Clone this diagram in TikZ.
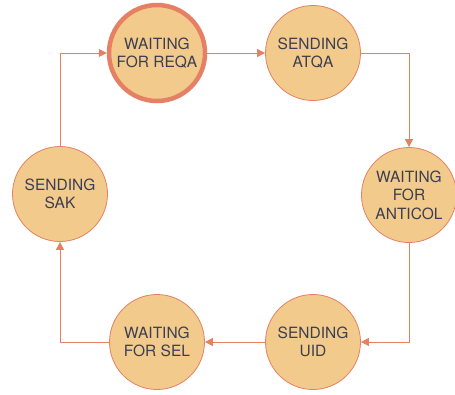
\documentclass[tikz,border=0pt]{standalone}
\usepackage{fontspec}
\setmainfont{TeX Gyre Heros}
\usepackage{tikz}
\usetikzlibrary{arrows.meta}

\definecolor{statefill}{RGB}{242,202,140}
\definecolor{stateline}{RGB}{229,128,100}
\definecolor{statetext}{RGB}{60,62,82}

\begin{document}
\begin{tikzpicture}[x=1pt,y=-1pt,>={Triangle[length=8pt,width=8pt]},
  state/.style={circle,draw=stateline,fill=statefill,line width=0.8pt,
    minimum size=95pt,inner sep=0pt,align=center,text=statetext,
    font=\fontsize{15.5}{18.5}\selectfont},
  start/.style={line width=4.5pt,minimum size=96pt},
  trans/.style={->,color=stateline,line width=1pt}]

  \useasboundingbox (0,0) rectangle (455,394);

  \node[state, start] (reqa) at (157,53) {WAITING\\FOR REQA};
  \node[state] (atqa) at (313,53) {SENDING\\ATQA};
  \node[state] (anticol) at (409,195) {WAITING\\FOR\\ANTICOL};
  \node[state] (uid) at (313,342) {SENDING\\UID};
  \node[state] (sel) at (157,342) {WAITING\\FOR SEL};
  \node[state] (sak) at (60,194) {SENDING\\SAK};

  \path[trans]
  (reqa) edge (atqa)
  (atqa) edge [to path={-| (\tikztotarget)}] (anticol)
  (anticol) edge [to path={|- (\tikztotarget)}] (uid)
  (uid) edge (sel)
  (sel) edge [to path={-| (\tikztotarget)}] (sak)
  (sak) edge [to path={|- (\tikztotarget)}] (reqa)
  ;
\end{tikzpicture}
\end{document}
